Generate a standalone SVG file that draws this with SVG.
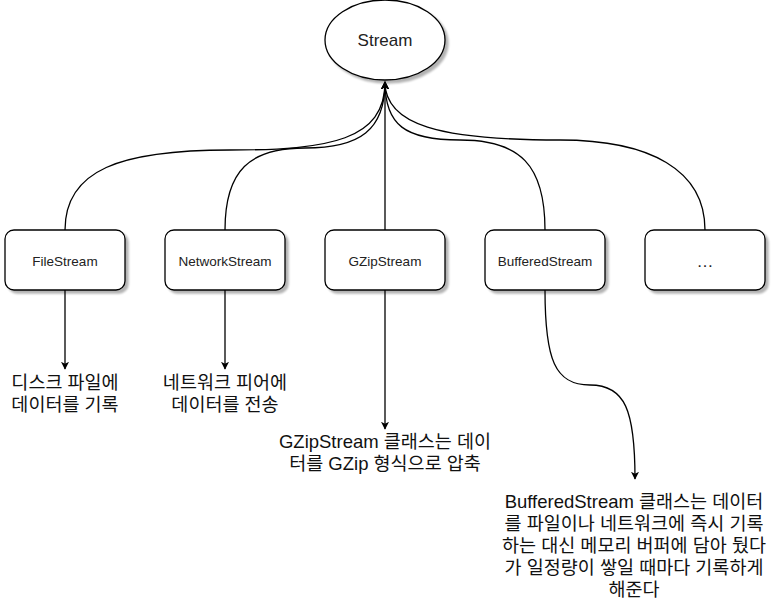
<svg xmlns="http://www.w3.org/2000/svg" width="779" height="615" viewBox="0 0 779 615">
<style>
.shape{fill:#ffffff;stroke:#000000;stroke-width:1.3;filter:url(#sh)}
.edge{fill:none;stroke:#000000;stroke-width:1.3}
.lbl{font-family:"Liberation Sans","Noto Sans CJK KR",sans-serif;fill:#222222;text-anchor:middle}
.txt{font-family:"Liberation Sans","Noto Sans CJK KR",sans-serif;font-size:18.5px;fill:#111111;text-anchor:middle}
</style>
<defs>
<filter id="sh" x="-20%" y="-20%" width="150%" height="150%">
<feGaussianBlur in="SourceAlpha" stdDeviation="1.2"/>
<feOffset dx="2.5" dy="3" result="o"/>
<feComponentTransfer><feFuncA type="linear" slope="0.3"/></feComponentTransfer>
<feMerge><feMergeNode/><feMergeNode in="SourceGraphic"/></feMerge>
</filter>
<marker id="arr" viewBox="0 0 10 10" refX="9" refY="5" markerWidth="8" markerHeight="8" markerUnits="userSpaceOnUse" orient="auto">
<path d="M0,0 L10,5 L0,10 L2.5,5 Z" fill="#000"/>
</marker>
</defs>
<rect width="779" height="615" fill="#ffffff"/>
<g id="connectors">
<path class="edge" d="M65 230 C65 170 120 150 230 150 C330 150 385 140 385 82" marker-end="url(#arr)"/>
<path class="edge" d="M225 230 C225 170 250 148 305 148 C360 148 385 130 385 82" marker-end="url(#arr)"/>
<path class="edge" d="M385 230 L385 82" marker-end="url(#arr)"/>
<path class="edge" d="M545 230 C545 165 520 140 460 140 C405 140 385 125 385 82" marker-end="url(#arr)"/>
<path class="edge" d="M705 230 C705 170 650 140 560 140 C440 140 385 125 385 82" marker-end="url(#arr)"/>
<path class="edge" d="M65 290 L65 369" marker-end="url(#arr)"/>
<path class="edge" d="M225 290 L225 369" marker-end="url(#arr)"/>
<path class="edge" d="M385 290 L385 429" marker-end="url(#arr)"/>
<path class="edge" d="M545 290 C545 360 555 385 590 385 C625 385 635 410 635 479" marker-end="url(#arr)"/>
</g>
<g id="stream">
<ellipse class="shape" cx="385" cy="40" rx="60" ry="40"/>
<text class="lbl" x="385" y="46" font-size="17">Stream</text>
</g>
<g id="filestream">
<rect class="shape" x="5" y="230" width="120" height="60" rx="9"/>
<text class="lbl" x="65" y="266" font-size="13.5">FileStream</text>
</g>
<g id="networkstream">
<rect class="shape" x="165" y="230" width="120" height="60" rx="9"/>
<text class="lbl" x="225" y="266" font-size="13.5">NetworkStream</text>
</g>
<g id="gzipstream">
<rect class="shape" x="325" y="230" width="120" height="60" rx="9"/>
<text class="lbl" x="385" y="266" font-size="13.5">GZipStream</text>
</g>
<g id="bufferedstream">
<rect class="shape" x="485" y="230" width="120" height="60" rx="9"/>
<text class="lbl" x="545" y="266" font-size="13.5">BufferedStream</text>
</g>
<g id="more">
<rect class="shape" x="645" y="230" width="120" height="60" rx="9"/>
<text class="lbl" x="705" y="267" font-size="17">…</text>
</g>
<g id="file-desc">
<text class="txt" x="65" y="389">디스크 파일에</text>
<text class="txt" x="65" y="411">데이터를 기록</text>
</g>
<g id="network-desc">
<text class="txt" x="225" y="389">네트워크 피어에</text>
<text class="txt" x="225" y="411">데이터를 전송</text>
</g>
<g id="gzip-desc">
<text class="txt" x="385" y="448">GZipStream 클래스는 데이</text>
<text class="txt" x="385" y="470">터를 GZip 형식으로 압축</text>
</g>
<g id="buffered-desc">
<text class="txt" x="634" y="508">BufferedStream 클래스는 데이터</text>
<text class="txt" x="634" y="530">를 파일이나 네트워크에 즉시 기록</text>
<text class="txt" x="634" y="552">하는 대신 메모리 버퍼에 담아 뒀다</text>
<text class="txt" x="634" y="574">가 일정량이 쌓일 때마다 기록하게</text>
<text class="txt" x="634" y="596">해준다</text>
</g>
</svg>
